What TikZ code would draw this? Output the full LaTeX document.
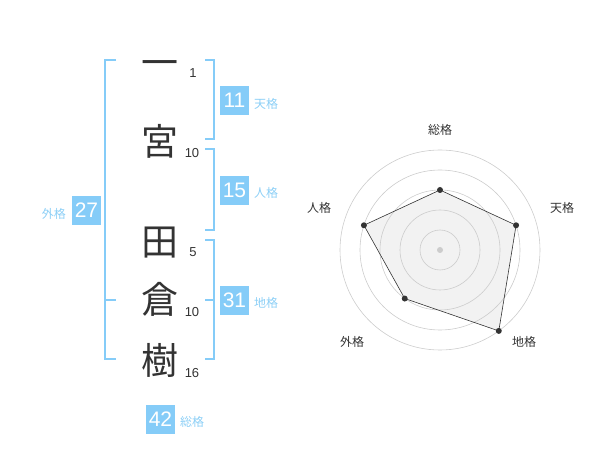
\documentclass[tikz,border=0pt]{standalone}
\usepackage{fontspec}
\setmainfont{Liberation Sans}
\newfontfamily\cjk{Noto Sans CJK JP}
\definecolor{bl}{HTML}{85CCF8}
\definecolor{bltext}{HTML}{8CCFF6}
\definecolor{ink}{HTML}{333333}
\definecolor{ring}{HTML}{CCCCCC}
\definecolor{area}{HTML}{F2F2F2}
\begin{document}
\begin{tikzpicture}[x=1pt,y=-1pt,
  kanji/.style={font=\cjk\fontsize{37}{37}\selectfont, text=ink, inner sep=0, anchor=base},
  strokes/.style={font=\fontsize{13}{13}\selectfont, text=ink, inner sep=0},
  numbox/.style={fill=bl, text=white, minimum size=29pt, inner sep=0, font=\fontsize{21}{21}\selectfont},
  kaku/.style={text=bltext, font=\cjk\fontsize{12}{12}\selectfont, inner sep=0},
  bracket/.style={draw=bl, line width=2pt},
  axlabel/.style={text=ink, font=\cjk\fontsize{12}{12}\selectfont, inner sep=0},
  ringline/.style={draw=ring, line width=0.6pt},
  dot/.style={circle, fill=ink, inner sep=0, minimum size=6pt}
]
\useasboundingbox (0,0) rectangle (600,470);

% characters
\node[kanji] (c1) at (160,77) {一};
\node[kanji] (c2) at (160,156) {宮};
\node[kanji] (c3) at (160,256) {田};
\node[kanji] (c4) at (160,314) {倉};
\node[kanji] (c5) at (160,374) {樹};

% stroke counts
\node[strokes] (s1) at (193,73) {1};
\node[strokes] (s2) at (192,153) {10};
\node[strokes] (s3) at (193,252) {5};
\node[strokes] (s4) at (192,312) {10};
\node[strokes] (s5) at (192,373) {16};

% brackets
\draw[bracket] (116,60) -- (105,60) -- (105,359) -- (116,359);
\draw[bracket] (105,300) -- (116,300);
\draw[bracket] (205,60) -- (214,60) -- (214,139) -- (205,139);
\draw[bracket] (205,149) -- (214,149) -- (214,230) -- (205,230);
\draw[bracket] (205,240) -- (214,240) -- (214,359) -- (205,359);
\draw[bracket] (205,300) -- (214,300);

% number boxes and labels
\node[numbox] (ten) at (234.5,100.5) {11};
\node[kaku, anchor=west] (tenl) at (254,104) {天格};
\node[numbox] (jin) at (234.5,190.5) {15};
\node[kaku, anchor=west] (jinl) at (254,193) {人格};
\node[numbox] (chi) at (234.5,300.5) {31};
\node[kaku, anchor=west] (chil) at (254,303) {地格};
\node[numbox] (gai) at (86.5,210.5) {27};
\node[kaku, anchor=east] (gail) at (66,214) {外格};
\node[numbox] (sou) at (160.5,419) {42};
\node[kaku, anchor=west] (soul) at (180,422) {総格};

% radar chart
\begin{scope}[shift={(440,250)}, x=1pt, y=1pt]
  \fill[area] (90:60) coordinate (pS) -- (18:80) coordinate (pT) -- (-54:100) coordinate (pC)
      -- (-126:60) coordinate (pG) -- (162:80) coordinate (pJ) -- cycle;
  \foreach \r in {20,40,60,80,100} \draw[ringline] (0,0) circle (\r);
  \draw[ink, line width=0.6pt] (pS) -- (pT) -- (pC) -- (pG) -- (pJ) -- cycle;
  \node[circle, fill=ring, inner sep=0, minimum size=6pt] (ctr) at (0,0) {};
  \node[dot] (dS) at (pS) {};
  \node[dot] (dT) at (pT) {};
  \node[dot] (dC) at (pC) {};
  \node[dot] (dG) at (pG) {};
  \node[dot] (dJ) at (pJ) {};
  \node[axlabel] (lS) at (0,120) {総格};
  \node[axlabel] (lT) at (122,42) {天格};
  \node[axlabel] (lC) at (84,-92) {地格};
  \node[axlabel] (lG) at (-88,-92) {外格};
  \node[axlabel] (lJ) at (-121,42) {人格};
\end{scope}
\end{tikzpicture}
\end{document}
